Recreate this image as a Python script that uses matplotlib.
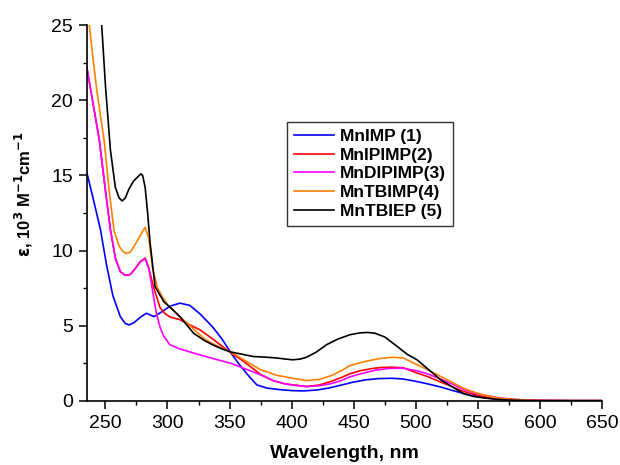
import matplotlib
matplotlib.use("Agg")
import matplotlib.pyplot as plt
from matplotlib.ticker import MultipleLocator

plt.rcParams['font.family'] = ['Liberation Sans', 'DejaVu Sans']

# MnIMP (1) - blue
wl_1 = [235, 240, 246, 251, 256, 262, 266, 269, 273, 278, 283, 289, 295, 302, 310, 318, 326, 336, 344, 351, 358, 366, 372, 380, 390, 400, 410, 420, 430, 440, 450, 460, 470, 481, 490, 500, 510, 520, 530, 540, 550, 560, 575, 590, 600, 625, 650]
v_1 = [15.2, 13.5, 11.4, 9.0, 7.0, 5.6, 5.15, 5.05, 5.2, 5.55, 5.83, 5.6, 5.9, 6.3, 6.5, 6.35, 5.8, 4.95, 4.1, 3.2, 2.4, 1.6, 1.06, 0.85, 0.75, 0.68, 0.66, 0.72, 0.85, 1.05, 1.25, 1.4, 1.48, 1.5, 1.45, 1.3, 1.12, 0.92, 0.68, 0.45, 0.28, 0.17, 0.07, 0.03, 0.02, 0.01, 0.01]

# MnIPIMP(2) - red
wl_2 = [235, 240, 245, 250, 254, 258, 262, 266, 270, 274, 278, 282, 285, 289, 294, 298, 302, 310, 318, 326, 335, 343, 351, 360, 368, 375, 385, 395, 402, 412, 422, 432, 440, 447, 455, 465, 472, 481, 490, 501, 510, 520, 530, 538, 546, 554, 565, 575, 590, 600, 625, 650]
v_2 = [22.2, 19.8, 17.4, 14.0, 11.4, 9.5, 8.6, 8.35, 8.4, 8.8, 9.25, 9.5, 8.8, 7.5, 6.2, 5.8, 5.58, 5.4, 5.05, 4.73, 4.2, 3.7, 3.2, 2.7, 2.2, 1.75, 1.35, 1.12, 1.05, 0.95, 1.05, 1.3, 1.55, 1.8, 2.0, 2.15, 2.22, 2.24, 2.2, 1.85, 1.6, 1.25, 0.92, 0.64, 0.45, 0.29, 0.15, 0.08, 0.03, 0.02, 0.01, 0.01]

# MnDIPIMP(3) - magenta
wl_3 = [235, 240, 245, 250, 254, 258, 262, 266, 270, 274, 278, 282, 285, 288, 291, 294, 297, 302, 310, 321, 335, 351, 361, 375, 385, 395, 402, 412, 422, 432, 440, 447, 458, 468, 478, 489, 501, 510, 520, 530, 538, 546, 554, 565, 573, 585, 600, 625, 650]
v_3 = [22.2, 19.8, 17.4, 14.0, 11.4, 9.5, 8.6, 8.35, 8.4, 8.8, 9.25, 9.45, 8.8, 7.3, 5.85, 4.9, 4.3, 3.73, 3.45, 3.18, 2.85, 2.5, 2.18, 1.73, 1.35, 1.12, 1.05, 0.95, 1.0, 1.15, 1.35, 1.6, 1.85, 2.05, 2.15, 2.18, 2.0, 1.78, 1.45, 1.1, 0.78, 0.55, 0.4, 0.22, 0.15, 0.07, 0.04, 0.01, 0.01]

# MnTBIMP(4) - orange
wl_4 = [235, 237, 240, 243, 246, 249, 253, 257, 261, 264, 267, 270, 274, 278, 282, 285, 288, 292, 296, 300, 310, 320, 330, 340, 351, 363, 375, 388, 401, 412, 422, 432, 440, 447, 458, 470, 481, 490, 501, 510, 520, 530, 538, 546, 554, 565, 573, 585, 600, 625, 650]
v_4 = [26.5, 25.0, 22.8, 20.7, 19.0, 17.3, 14.0, 11.3, 10.3, 9.95, 9.8, 9.9, 10.4, 11.0, 11.55, 10.8, 8.8, 7.5, 6.9, 6.4, 5.6, 4.85, 4.1, 3.65, 3.25, 2.65, 2.07, 1.7, 1.5, 1.35, 1.42, 1.68, 2.0, 2.35, 2.6, 2.8, 2.9, 2.85, 2.4, 2.05, 1.62, 1.2, 0.85, 0.6, 0.4, 0.2, 0.13, 0.06, 0.03, 0.01, 0.01]

# MnTBIEP (5) - black
wl_5 = [245, 247, 250, 254, 258, 261, 263.5, 266, 269, 272.5, 276, 278.6, 280, 282, 284, 286, 290, 297, 303, 310, 321, 330, 337, 344, 351, 360, 369, 380, 388, 395, 401, 407, 412, 420, 428, 437, 447, 455, 461, 467, 475, 485, 493, 501, 510, 520, 530, 538, 546, 554, 565, 575, 590, 600, 625, 650]
v_5 = [27.0, 25.0, 21.0, 16.7, 14.2, 13.5, 13.3, 13.5, 14.1, 14.6, 14.9, 15.1, 15.0, 14.2, 12.5, 10.5, 7.6, 6.6, 6.15, 5.6, 4.5, 4.0, 3.7, 3.45, 3.25, 3.1, 2.95, 2.9, 2.85, 2.78, 2.73, 2.78, 2.9, 3.25, 3.73, 4.1, 4.4, 4.52, 4.55, 4.5, 4.25, 3.62, 3.1, 2.73, 2.1, 1.4, 0.9, 0.5, 0.3, 0.2, 0.1, 0.05, 0.02, 0.01, 0.01, 0.01]

labels = ['MnIMP (1)', 'MnIPIMP(2)', 'MnDIPIMP(3)', 'MnTBIMP(4)', 'MnTBIEP (5)']
colors = ['#0000ff', '#ff0000', '#ff00ff', '#ff8000', '#000000']

fig = plt.figure(figsize=(6.2, 4.65), dpi=100)
ax = fig.add_axes([0.140, 0.138, 0.831, 0.808])

series = [(wl_1, v_1), (wl_2, v_2), (wl_3, v_3), (wl_4, v_4), (wl_5, v_5)]
for (x, y), lab, c in zip(series, labels, colors):
    ax.plot(x, y, color=c, lw=1.2, label=lab)

ax.set_xlim(235, 650)
ax.set_ylim(0, 25)
ax.xaxis.set_major_locator(MultipleLocator(50))
ax.xaxis.set_minor_locator(MultipleLocator(25))
ax.yaxis.set_major_locator(MultipleLocator(5))
ax.yaxis.set_minor_locator(MultipleLocator(2.5))
ax.spines['top'].set_visible(False)
ax.spines['right'].set_visible(False)
ax.spines['left'].set_linewidth(1.2)
ax.spines['bottom'].set_linewidth(1.2)
ax.tick_params(which='major', direction='out', length=5.5, width=1.1, labelsize=14, pad=4.5)
ax.tick_params(which='minor', direction='out', length=3, width=1.0)

ax.set_xlabel('Wavelength, nm', fontsize=14, fontweight='bold')
ax.xaxis.set_label_coords(0.5, -0.117)
ax.set_ylabel(r'$\mathbf{\varepsilon}$, 10$^{\mathbf{3}}$ M$^{\mathbf{-1}}$cm$^{\mathbf{-1}}$',
              fontsize=12, fontweight='bold')
ax.yaxis.set_label_coords(-0.10, 0.55)

leg = ax.legend(loc='upper left', bbox_to_anchor=(0.388, 0.742), borderaxespad=0,
                frameon=True, fancybox=False,
                edgecolor='black', prop={'weight': 'bold', 'size': 12.5},
                handlelength=2.3, handletextpad=0.35, labelspacing=0.2, borderpad=0.4)
leg.get_frame().set_linewidth(1.0)

fig.savefig('out.png', dpi=100)
